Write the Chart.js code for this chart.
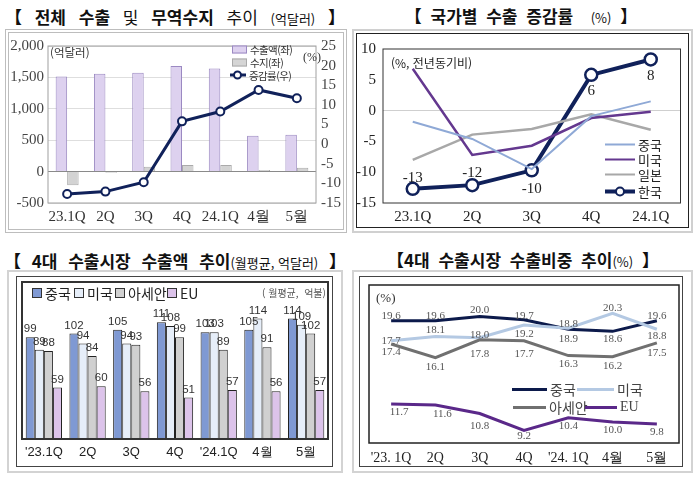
<!DOCTYPE html>
<html lang="ko">
<head>
<meta charset="utf-8">
<script src="https://cdn.jsdelivr.net/npm/chart.js@4.4.1/dist/chart.umd.min.js"></script>
<style>
  body { margin:0; width:700px; height:479px; background:#fff; position:relative; overflow:hidden;
         font-family:"Noto Sans CJK KR", sans-serif; color:#222; }
  .abs { position:absolute; box-sizing:border-box; }
  .title { position:absolute; font-weight:700; font-size:17px; color:#111; white-space:nowrap;
           transform:translate(-50%,-50%); word-spacing:4px; }
  .title span { font-weight:400; }
  .title small { font-weight:400; font-size:13px; word-spacing:0; }
  .note { position:absolute; white-space:nowrap; transform:translateY(-50%); }
  .lg { position:absolute; display:flex; align-items:center; white-space:nowrap; transform:translateY(-50%); }
  .lg i { display:inline-block; position:relative; margin-right:3px; }
  .lg b { position:absolute; border-radius:50%; background:#fff; box-sizing:border-box; }
  .serif { font-family:"Liberation Serif", "Noto Sans CJK KR", serif; }
  .small { font-size:10.5px; letter-spacing:-0.6px; color:#333; }
</style>
</head>
<body>

<!-- top left -->
<div class="title" style="left:175px;top:16px;word-spacing:8px">【 전체 수출 <span>및</span> 무역수지 <span>추이</span> <small>(억달러)</small> 】</div>
<div class="abs" style="left:5px;top:29px;width:342px;height:204px;border:4px double #bdbdbd"></div>
<div class="abs" style="left:8px;top:32px;width:336px;height:198px"><canvas id="c1"></canvas></div>
<div class="note" style="left:50px;top:52px;font-size:11.5px;color:#333">(억달러)</div>
<div class="note serif" style="left:303px;top:57px;font-size:12px;color:#333">(%)</div>
<div class="lg small" style="left:232px;top:49px"><i style="width:13px;height:6px;background:#ddd1ef;border:1px solid #9b89c2"></i>수출액(좌)</div>
<div class="lg small" style="left:232px;top:62px"><i style="width:13px;height:6px;background:#d5d5d5;border:1px solid #aaa"></i>수지(좌)</div>
<div class="lg small" style="left:230px;top:75px"><i style="width:16px;height:0;border-top:3px solid #10215a"><b style="left:3px;top:-6px;width:9px;height:9px;border:2px solid #10215a"></b></i>증감률(우)</div>

<!-- top right -->
<div class="title" style="left:521px;top:15px">【 국가별 수출 증감률 &nbsp;<small>(%)</small> 】</div>
<div class="abs" style="left:352px;top:29px;width:341px;height:204px;border:2px solid #d0d0d0"></div>
<div class="abs" style="left:356px;top:33px;width:333px;height:195px;border:1.5px solid #222"></div>
<div class="abs" style="left:356px;top:33px;width:333px;height:195px"><canvas id="c2"></canvas></div>
<div class="note" style="left:391px;top:62px;font-size:12px;color:#222">(%, 전년동기비)</div>
<div class="lg" style="left:605px;top:144px;font-size:13px"><i style="width:30px;border-top:2px solid #8fa9d6"></i>중국</div>
<div class="lg" style="left:605px;top:159px;font-size:13px"><i style="width:30px;border-top:2.5px solid #64388f"></i>미국</div>
<div class="lg" style="left:605px;top:174px;font-size:13px"><i style="width:30px;border-top:2.5px solid #a8a8a8"></i>일본</div>
<div class="lg" style="left:605px;top:191px;font-size:13px"><i style="width:30px;height:0;border-top:4px solid #10215a"><b style="left:10px;top:-7px;width:10px;height:10px;border:2.5px solid #10215a"></b></i>한국</div>

<!-- bottom left -->
<div class="title" style="left:175px;top:260px;word-spacing:6px">【 4대 수출시장 수출액 추이<small>(월평균, 억달러)</small> 】</div>
<div class="abs" style="left:7px;top:270px;width:336px;height:203px;border:2px solid #d3d3d3"></div>
<div class="abs" style="left:16px;top:276px;width:317px;height:191px;border:1.5px solid #444"></div>
<div class="abs" style="left:16px;top:276px;width:317px;height:191px"><canvas id="c3"></canvas></div>
<div class="lg" style="left:32px;top:293px;font-size:14px"><i style="width:8px;height:8px;background:#7f99d3;border:1px solid #333"></i>중국</div>
<div class="lg" style="left:74px;top:293px;font-size:14px"><i style="width:8px;height:8px;background:#e6eef9;border:1px solid #333"></i>미국</div>
<div class="lg" style="left:115px;top:293px;font-size:14px"><i style="width:8px;height:8px;background:#d0d0d0;border:1px solid #333"></i>아세안</div>
<div class="lg" style="left:167px;top:293px;font-size:14px"><i style="width:8px;height:8px;background:#dcc3ea;border:1px solid #333"></i>EU</div>
<div class="note" style="left:262px;top:292px;font-size:10px;color:#555">( 월평균,&nbsp; 억불)</div>

<!-- bottom right -->
<div class="title" style="left:523px;top:259px">【4대 수출시장 수출비중 추이<small>(%)</small> 】</div>
<div class="abs" style="left:352px;top:270px;width:341px;height:203px;border:2px solid #d3d3d3"></div>
<div class="abs" style="left:359px;top:276px;width:324px;height:191px;border:1.5px solid #444"></div>
<div class="abs" style="left:359px;top:276px;width:324px;height:191px"><canvas id="c4"></canvas></div>
<div class="note serif" style="left:376px;top:298px;font-size:13px;color:#333">(%)</div>
<div class="lg" style="left:512px;top:389px;font-size:14px;color:#444"><i style="width:35px;border-top:3px solid #0c1a4b"></i>중국</div>
<div class="lg" style="left:577px;top:389px;font-size:14px;color:#444"><i style="width:37px;border-top:3px solid #b4c9e3"></i>미국</div>
<div class="lg" style="left:513px;top:407px;font-size:14px;color:#444"><i style="width:33px;border-top:3px solid #707070"></i>아세안</div>
<div class="lg serif" style="left:585px;top:407px;font-size:14px;color:#444"><i style="width:32px;border-top:3px solid #5a2889"></i>EU</div>

<script>
// 전체 수출 및 무역수지
const periodsA = ['23.1Q', '2Q', '3Q', '4Q', '24.1Q', '4월', '5월'];
const exportAmount = [1515, 1560, 1575, 1680, 1640, 572, 587];
const tradeBalance = [-218, -20, 76, 106, 106, 25, 61];
const exportGrowth = [-12.7, -12.1, -9.7, 5.8, 8.3, 13.8, 11.7];

// 국가별 수출 증감률
const periodsB = ['23.1Q', '2Q', '3Q', '4Q', '24.1Q'];
const chinaGrowth = [-1.8, -4.6, -9.5, -0.9, 1.5];
const usGrowth = [6.8, -7.2, -5.7, -1.2, -0.2];
const japanGrowth = [-8.0, -3.9, -3.0, -0.6, -3.1];
const koreaGrowth = [-12.7, -12.1, -9.7, 5.8, 8.3];

// 4대 수출시장 수출액 (월평균, 억달러)
const periodsC = ["'23.1Q", '2Q', '3Q', '4Q', "'24.1Q", '4월', '5월'];
const chinaExport = [99, 102, 105, 111, 103, 105, 114];
const usExport = [89, 94, 94, 108, 103, 114, 109];
const aseanExport = [88, 84, 93, 99, 89, 91, 102];
const euExport = [59, 60, 56, 51, 57, 56, 57];

// 4대 수출시장 수출비중 (%)
const periodsD = ["'23. 1Q", '2Q', '3Q', '4Q', "'24. 1Q", '4월', '5월'];
const chinaShare = [19.6, 19.6, 20.0, 19.7, 18.8, 18.6, 19.6];
const usShare = [17.7, 18.1, 18.0, 19.2, 18.9, 20.3, 18.8];
const aseanShare = [17.4, 16.1, 17.8, 17.7, 16.3, 16.2, 17.5];
const euShare = [11.7, 11.6, 10.8, 9.2, 10.4, 10.0, 9.8];

const SERIF = '"Liberation Serif", serif';
const SANS = '"Liberation Sans", Arial, sans-serif';

// box round the plot area + value labels
const decor = {
  id: 'decor',
  afterDatasetsDraw(chart, args, opts) {
    const ctx = chart.ctx;
    const a = chart.chartArea;
    if (opts.boxColor) {
      ctx.save();
      ctx.strokeStyle = opts.boxColor;
      ctx.lineWidth = opts.boxWidth || 1;
      ctx.strokeRect(a.left, a.top, a.right - a.left, a.bottom - a.top);
      ctx.restore();
    }
    chart.data.datasets.forEach((ds, i) => {
      const lc = ds.valueLabels;
      if (!lc) return;
      const meta = chart.getDatasetMeta(i);
      ctx.save();
      ctx.font = lc.font;
      ctx.fillStyle = lc.color;
      ctx.textAlign = 'center';
      ctx.textBaseline = 'middle';
      meta.data.forEach((el, j) => {
        const dy = Array.isArray(lc.dy) ? lc.dy[j] : (lc.dy || 0);
        const dx = Array.isArray(lc.dx) ? lc.dx[j] : (lc.dx || 0);
        ctx.fillText(lc.format(ds.data[j]), el.x + dx, el.y + dy);
      });
      ctx.restore();
    });
  }
};
Chart.register(decor);

const fixW = w => scale => { scale.width = w; };
const fixH = h => scale => { scale.height = h; };

const base = {
  responsive: true,
  maintainAspectRatio: false,
  animation: false,
  events: [],
};
const noGrid = { display: false, drawTicks: false };

new Chart(document.getElementById('c1'), {
  type: 'bar',
  data: {
    labels: periodsA,
    datasets: [
      { type: 'line', label: '증감률(우)', data: exportGrowth, yAxisID: 'y1', order: 0,
        borderColor: '#10215a', borderWidth: 3, tension: 0,
        pointRadius: 4, pointBorderWidth: 2, pointBackgroundColor: '#fff', pointBorderColor: '#10215a' },
      { label: '수출액(좌)', data: exportAmount, yAxisID: 'y', order: 1,
        backgroundColor: '#ddd1ef', borderColor: '#9b89c2', borderWidth: 1,
        barPercentage: 1, categoryPercentage: 0.6 },
      { label: '수지(좌)', data: tradeBalance, yAxisID: 'y', order: 2,
        backgroundColor: '#d3d3d3', borderColor: '#aaa', borderWidth: 1,
        barPercentage: 1, categoryPercentage: 0.6 },
    ]
  },
  options: {
    ...base,
    layout: { padding: { top: 7 } },
    plugins: { legend: { display: false }, tooltip: { enabled: false },
               decor: { boxColor: '#a0a0a0', boxWidth: 1 } },
    scales: {
      x: { grid: noGrid, border: { display: false },
           ticks: { font: { family: SERIF, size: 15 }, color: '#333', padding: 5, maxRotation: 0, autoSkip: false },
           afterFit: fixH(27) },
      y: { position: 'left', min: -500, max: 2000,
           grid: { drawTicks: false, color: c => c.tick.value === 0 ? '#8a8a8a' : '#dedede' },
           border: { display: false },
           ticks: { stepSize: 500, padding: 4, autoSkip: false, font: { family: SERIF, size: 15 }, color: '#444',
                    callback: v => v.toLocaleString('en-US') },
           afterFit: fixW(40) },
      y1: { position: 'right', min: -15, max: 25,
            grid: { drawOnChartArea: false, drawTicks: false }, border: { display: false },
            ticks: { stepSize: 5, padding: 5, autoSkip: false, font: { family: SERIF, size: 15 }, color: '#444' },
            afterFit: fixW(28) },
    }
  }
});

new Chart(document.getElementById('c2'), {
  type: 'line',
  data: {
    labels: periodsB,
    datasets: [
      { label: '중국', data: chinaGrowth, borderColor: '#8fa9d6', borderWidth: 2, pointRadius: 0, tension: 0 },
      { label: '미국', data: usGrowth, borderColor: '#64388f', borderWidth: 2.5, pointRadius: 0, tension: 0 },
      { label: '일본', data: japanGrowth, borderColor: '#a8a8a8', borderWidth: 2.5, pointRadius: 0, tension: 0 },
      { label: '한국', data: koreaGrowth, borderColor: '#10215a', borderWidth: 4, tension: 0,
        pointRadius: 6, pointBorderWidth: 2.5, pointBackgroundColor: '#fff', pointBorderColor: '#10215a',
        valueLabels: { font: '15px ' + SERIF, color: '#222', format: v => String(Math.round(v)),
                       dy: [-11, -12, 19, 16, 17] } },
    ]
  },
  options: {
    ...base,
    layout: { padding: { top: 9, right: 7 } },
    plugins: { legend: { display: false }, tooltip: { enabled: false },
               decor: { boxColor: '#333', boxWidth: 1 } },
    scales: {
      x: { offset: true, grid: noGrid, border: { display: false },
           ticks: { font: { family: SERIF, size: 15 }, color: '#222', padding: 5, maxRotation: 0, autoSkip: false },
           afterFit: fixH(25) },
      y: { min: -15, max: 10,
           grid: { drawTicks: false, color: c => c.tick.value === 0 ? '#cfcfcf' : 'rgba(0,0,0,0)' },
           border: { display: false },
           ticks: { stepSize: 5, padding: 7, autoSkip: false, font: { family: SERIF, size: 15 }, color: '#222' },
           afterFit: fixW(27) },
    }
  }
});

const barLabel = { font: '11.5px ' + SANS, color: '#333', format: v => String(v), dy: -8 };

new Chart(document.getElementById('c3'), {
  type: 'bar',
  data: {
    labels: periodsC,
    datasets: [
      { label: '중국', data: chinaExport, backgroundColor: '#7f99d3', valueLabels: barLabel },
      { label: '미국', data: usExport, backgroundColor: '#e6eef9', valueLabels: barLabel },
      { label: '아세안', data: aseanExport, backgroundColor: '#d0d0d0', valueLabels: barLabel },
      { label: 'EU', data: euExport, backgroundColor: '#dcc3ea', valueLabels: barLabel },
    ]
  },
  options: {
    ...base,
    layout: { padding: { top: 6, left: 6, right: 5 } },
    datasets: { bar: { borderColor: '#222', borderWidth: 1, barPercentage: 1, categoryPercentage: 0.83 } },
    plugins: { legend: { display: false }, tooltip: { enabled: false },
               decor: { boxColor: '#333', boxWidth: 2 } },
    scales: {
      x: { grid: noGrid, border: { display: false },
           ticks: { font: { family: SANS, size: 13 }, color: '#222', padding: 6, maxRotation: 0, autoSkip: false },
           afterFit: fixH(28) },
      y: { display: false, min: 18, max: 143 },
    }
  }
});

const shareFmt = v => v.toFixed(1);
const shareFont = '11px ' + SERIF;

new Chart(document.getElementById('c4'), {
  type: 'line',
  data: {
    labels: periodsD,
    datasets: [
      { label: '아세안', data: aseanShare, borderColor: '#707070',
        valueLabels: { font: shareFont, color: '#555', format: shareFmt, dy: [8, 9, 14, 13, 9, 9, 10] } },
      { label: 'EU', data: euShare, borderColor: '#5a2889',
        valueLabels: { font: shareFont, color: '#555', format: shareFmt, dy: [8, 9, 13, 6, 8, 8, 8], dx: [8, 7, 0, 0, 0, 0, 0] } },
      { label: '미국', data: usShare, borderColor: '#b4c9e3',
        valueLabels: { font: shareFont, color: '#555', format: shareFmt, dy: [0, -7, -3, 9, 11, -5, 7] } },
      { label: '중국', data: chinaShare, borderColor: '#0c1a4b',
        valueLabels: { font: shareFont, color: '#555', format: shareFmt, dy: [-5, -5, -6, -4, -5, 8, -5] } },
    ]
  },
  options: {
    ...base,
    layout: { padding: { top: 9, left: 10, right: 4 } },
    datasets: { line: { borderWidth: 3, pointRadius: 0, tension: 0 } },
    plugins: { legend: { display: false }, tooltip: { enabled: false },
               decor: { boxColor: '#222', boxWidth: 1.5 } },
    scales: {
      x: { offset: true, grid: noGrid, border: { display: false },
           ticks: { font: { family: SERIF, size: 14 }, color: '#222', padding: 7, maxRotation: 0, autoSkip: false },
           afterFit: fixH(24) },
      y: { display: false, min: 8, max: 23 },
    }
  }
});
</script>
</body>
</html>
